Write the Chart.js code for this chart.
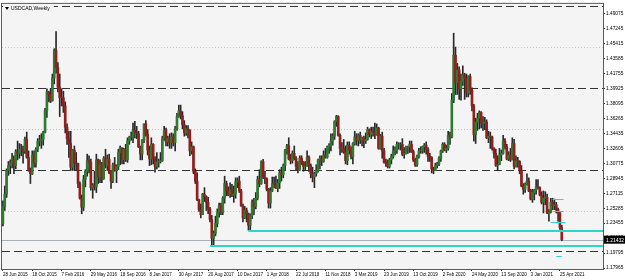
<!DOCTYPE html>
<html>
<head>
<meta charset="utf-8">
<script src="https://cdn.jsdelivr.net/npm/chart.js@4.4.0/dist/chart.umd.min.js"></script>
<style>
  html, body { margin: 0; padding: 0; background: #fff; }
</style>
</head>
<body>
<canvas id="app-canvas" width="625" height="280"></canvas>
<script>
// USDCAD weekly, one candle per week starting 28 Jun 2015
var tickLabels = ["28 Jun 2015", "18 Oct 2015", "7 Feb 2016", "29 May 2016", "18 Sep 2016",
  "8 Jan 2017", "30 Apr 2017", "20 Aug 2017", "10 Dec 2017", "1 Apr 2018", "22 Jul 2018",
  "11 Nov 2018", "3 Mar 2019", "23 Jun 2019", "13 Oct 2019", "2 Feb 2020", "24 May 2020",
  "13 Sep 2020", "3 Jan 2021", "25 Apr 2021"];

var open = [
  1.2340,1.2550,1.2700,1.2990,1.3050,1.3080,1.3135,1.3050,1.3220,1.3200,
  1.3250,1.3250,1.3230,1.3370,1.3150,1.2990,1.2950,1.3180,1.3080,1.3250,
  1.3350,1.3360,1.3370,1.3460,1.3725,1.3950,1.3920,1.3840,1.4120,1.4460,
  1.4250,1.4010,1.3880,1.3880,1.3780,1.3520,1.3380,1.3320,1.3030,1.3240,
  1.3080,1.3075,1.2830,1.2650,1.2540,1.2880,1.2980,1.3110,1.3090,1.2780,
  1.2810,1.2790,1.3120,1.2910,1.3070,1.2890,1.3140,1.3050,1.3130,1.2960,
  1.2860,1.3060,1.2990,1.3040,1.3210,1.3270,1.3120,1.3245,1.3120,1.3350,
  1.3400,1.3400,1.3480,1.3460,1.3440,1.3280,1.3190,1.3360,1.3560,1.3430,
  1.3240,1.3130,1.3310,1.3130,1.3040,1.3095,1.3100,1.3110,1.3380,1.3480,
  1.3340,1.3380,1.3330,1.3400,1.3330,1.3500,1.3650,1.3720,1.3660,1.3550,
  1.3450,1.3500,1.3480,1.3230,1.3280,1.2980,1.2860,1.2630,1.2510,1.2450,
  1.2700,1.2670,1.2600,1.2520,1.2390,1.2160,1.2220,1.2340,1.2480,1.2560,
  1.2480,1.2650,1.2830,1.2740,1.2690,1.2750,1.2690,1.2700,1.2850,1.2860,
  1.2740,1.2560,1.2410,1.2500,1.2460,1.2320,1.2440,1.2600,1.2550,1.2650,
  1.2880,1.2830,1.3100,1.2900,1.2890,1.2760,1.2590,1.2740,1.2830,1.2820,
  1.2770,1.2840,1.2960,1.2940,1.3050,1.3240,1.3290,1.3130,1.3110,1.3200,
  1.3140,1.3040,1.3000,1.3140,1.3090,1.3040,1.3040,1.3150,1.3050,1.2950,
  1.2910,1.2950,1.2990,1.3120,1.3140,1.3100,1.3180,1.3150,1.3280,1.3290,
  1.3350,1.3410,1.3590,1.3650,1.3420,1.3260,1.3260,1.3220,1.3110,1.3300,
  1.3240,1.3160,1.3320,1.3400,1.3360,1.3420,1.3360,1.3390,1.3350,1.3370,
  1.3490,1.3430,1.3470,1.3460,1.3430,1.3510,1.3260,1.3410,1.3230,1.3090,
  1.3080,1.3040,1.3120,1.3160,1.3230,1.3230,1.3310,1.3310,1.3310,1.3190,
  1.3200,1.3270,1.3280,1.3310,1.3220,1.3120,1.3060,1.3160,1.3230,1.3230,
  1.3280,1.3300,1.3250,1.3160,1.3150,1.3010,1.2990,1.3050,1.3070,1.3140,
  1.3230,1.3310,1.3240,1.3260,1.3420,1.3400,1.3850,1.4400,1.4060,1.4220,
  1.3990,1.4080,1.4160,1.4120,1.3940,1.4140,1.3970,1.3780,1.3430,1.3580,
  1.3630,1.3700,1.3570,1.3570,1.3580,1.3390,1.3410,1.3400,1.3260,1.3200,
  1.3050,1.3060,1.3180,1.3200,1.3350,1.3280,1.3130,1.3180,1.3120,1.3320,
  1.3040,1.3110,1.3100,1.2990,1.2800,1.2760,1.2820,1.2860,1.2740,1.2640,
  1.2720,1.2750,1.2790,1.2780,1.2690,1.2600,1.2650,1.2660,1.2470,1.2480,
  1.2600,1.2560,1.2570,1.2510,1.2470,1.2290
];
var high = [
  1.2620,1.2800,1.3010,1.3100,1.3120,1.3200,1.3170,1.3245,1.3350,1.3320,
  1.3310,1.3290,1.3400,1.3460,1.3230,1.3020,1.3230,1.3230,1.3270,1.3380,
  1.3420,1.3440,1.3470,1.3750,1.3990,1.3960,1.3990,1.4170,1.4480,1.4690,
  1.4310,1.4170,1.3990,1.3960,1.3830,1.3560,1.3470,1.3470,1.3250,1.3290,
  1.3210,1.3080,1.2850,1.2690,1.2930,1.3000,1.3190,1.3170,1.3130,1.2830,
  1.2980,1.3190,1.3130,1.3120,1.3090,1.3160,1.3250,1.3180,1.3190,1.2980,
  1.3080,1.3150,1.3060,1.3250,1.3290,1.3250,1.3260,1.3310,1.3390,1.3410,
  1.3460,1.3570,1.3590,1.3530,1.3470,1.3290,1.3370,1.3560,1.3600,1.3490,
  1.3290,1.3390,1.3320,1.3160,1.3210,1.3130,1.3210,1.3410,1.3530,1.3510,
  1.3410,1.3440,1.3450,1.3440,1.3530,1.3690,1.3790,1.3790,1.3710,1.3600,
  1.3540,1.3540,1.3490,1.3340,1.3290,1.3010,1.2960,1.2640,1.2580,1.2710,
  1.2780,1.2680,1.2660,1.2540,1.2440,1.2250,1.2430,1.2520,1.2590,1.2590,
  1.2670,1.2920,1.2860,1.2790,1.2840,1.2820,1.2800,1.2900,1.2900,1.2920,
  1.2760,1.2580,1.2550,1.2530,1.2470,1.2460,1.2630,1.2650,1.2720,1.2920,
  1.3000,1.3110,1.3125,1.2980,1.2900,1.2770,1.2780,1.2910,1.2910,1.2920,
  1.2880,1.3000,1.3030,1.3070,1.3250,1.3310,1.3390,1.3190,1.3230,1.3290,
  1.3160,1.3100,1.3170,1.3170,1.3100,1.3100,1.3230,1.3170,1.3070,1.3030,
  1.2970,1.3060,1.3130,1.3170,1.3170,1.3230,1.3260,1.3290,1.3320,1.3440,
  1.3440,1.3600,1.3665,1.3660,1.3440,1.3330,1.3370,1.3290,1.3340,1.3340,
  1.3280,1.3330,1.3470,1.3440,1.3440,1.3460,1.3400,1.3410,1.3450,1.3520,
  1.3500,1.3520,1.3520,1.3570,1.3560,1.3520,1.3430,1.3460,1.3260,1.3130,
  1.3120,1.3140,1.3190,1.3290,1.3280,1.3340,1.3330,1.3330,1.3380,1.3270,
  1.3290,1.3290,1.3350,1.3350,1.3240,1.3140,1.3180,1.3260,1.3280,1.3290,
  1.3320,1.3340,1.3270,1.3200,1.3160,1.3030,1.3080,1.3090,1.3160,1.3240,
  1.3330,1.3330,1.3300,1.3470,1.3460,1.3930,1.4670,1.4500,1.4300,1.4260,
  1.4170,1.4270,1.4180,1.4170,1.4150,1.4170,1.4000,1.3800,1.3630,1.3690,
  1.3720,1.3710,1.3650,1.3640,1.3610,1.3470,1.3460,1.3410,1.3270,1.3250,
  1.3170,1.3260,1.3240,1.3420,1.3380,1.3310,1.3220,1.3260,1.3390,1.3370,
  1.3170,1.3150,1.3110,1.3050,1.2830,1.2840,1.2950,1.2900,1.2760,1.2760,
  1.2760,1.2880,1.2880,1.2790,1.2730,1.2740,1.2730,1.2700,1.2510,1.2650,
  1.2650,1.2640,1.2600,1.2530,1.2480,1.2320
];
var low = [
  1.2310,1.2500,1.2660,1.2930,1.2950,1.3020,1.2950,1.3010,1.3120,1.3140,
  1.3170,1.3080,1.3200,1.3140,1.2980,1.2830,1.2940,1.3030,1.3030,1.3220,
  1.3290,1.3260,1.3300,1.3450,1.3640,1.3830,1.3820,1.3840,1.4050,1.4180,
  1.3950,1.3650,1.3780,1.3700,1.3450,1.3310,1.3150,1.2990,1.2990,1.2990,
  1.2990,1.2780,1.2640,1.2460,1.2500,1.2790,1.2920,1.2960,1.2750,1.2650,
  1.2750,1.2720,1.2830,1.2840,1.2840,1.2880,1.3020,1.2990,1.2950,1.2770,
  1.2840,1.2980,1.2840,1.3000,1.3060,1.3070,1.3070,1.3100,1.3090,1.3310,
  1.3360,1.3330,1.3390,1.3380,1.3270,1.3120,1.3120,1.3330,1.3410,1.3180,
  1.3050,1.3060,1.3070,1.2970,1.3010,1.3030,1.3080,1.3100,1.3360,1.3290,
  1.3290,1.3260,1.3260,1.3290,1.3230,1.3480,1.3640,1.3620,1.3500,1.3410,
  1.3420,1.3390,1.3170,1.3190,1.2950,1.2830,1.2620,1.2490,1.2410,1.2450,
  1.2610,1.2500,1.2460,1.2360,1.2060,1.2060,1.2190,1.2300,1.2420,1.2450,
  1.2450,1.2590,1.2680,1.2680,1.2660,1.2670,1.2600,1.2650,1.2780,1.2720,
  1.2550,1.2360,1.2400,1.2360,1.2260,1.2250,1.2400,1.2450,1.2520,1.2630,
  1.2790,1.2820,1.2890,1.2830,1.2740,1.2530,1.2530,1.2730,1.2780,1.2770,
  1.2730,1.2770,1.2860,1.2900,1.2990,1.3190,1.3120,1.3070,1.3080,1.3120,
  1.3000,1.2960,1.2990,1.3060,1.2980,1.2990,1.3040,1.2980,1.2900,1.2850,
  1.2780,1.2920,1.2970,1.3010,1.3050,1.3090,1.3140,1.3140,1.3200,1.3230,
  1.3300,1.3370,1.3530,1.3410,1.3180,1.3210,1.3200,1.3070,1.3060,1.3190,
  1.3130,1.3070,1.3300,1.3300,1.3290,1.3320,1.3290,1.3270,1.3320,1.3360,
  1.3400,1.3380,1.3410,1.3380,1.3420,1.3250,1.3250,1.3140,1.3080,1.3040,
  1.3020,1.3020,1.3070,1.3140,1.3180,1.3200,1.3250,1.3240,1.3170,1.3140,
  1.3190,1.3200,1.3210,1.3210,1.3100,1.3040,1.3040,1.3140,1.3200,1.3200,
  1.3210,1.3190,1.3100,1.3100,1.2960,1.2950,1.2990,1.3020,1.3050,1.3100,
  1.3210,1.3230,1.3210,1.3240,1.3310,1.3390,1.3820,1.3920,1.3920,1.3860,
  1.3850,1.4030,1.3860,1.3890,1.3890,1.3920,1.3720,1.3350,1.3320,1.3480,
  1.3500,1.3510,1.3480,1.3490,1.3380,1.3330,1.3260,1.3240,1.3140,1.3040,
  1.2990,1.3060,1.3110,1.3190,1.3250,1.3120,1.3110,1.3100,1.3120,1.3010,
  1.3030,1.3030,1.2950,1.2790,1.2700,1.2720,1.2810,1.2730,1.2630,1.2600,
  1.2630,1.2700,1.2760,1.2680,1.2580,1.2470,1.2570,1.2460,1.2370,1.2470,
  1.2510,1.2510,1.2470,1.2370,1.2270,1.2130
];
var close = [
  1.2550,1.2700,1.2990,1.3050,1.3080,1.3135,1.3050,1.3220,1.3200,1.3250,
  1.3250,1.3230,1.3370,1.3150,1.2990,1.2950,1.3180,1.3080,1.3250,1.3350,
  1.3360,1.3370,1.3460,1.3725,1.3950,1.3920,1.3840,1.4120,1.4460,1.4250,
  1.4010,1.3880,1.3880,1.3780,1.3520,1.3380,1.3320,1.3030,1.3240,1.3080,
  1.3075,1.2830,1.2650,1.2540,1.2880,1.2980,1.3110,1.3090,1.2780,1.2810,
  1.2790,1.3120,1.2910,1.3070,1.2890,1.3140,1.3050,1.3130,1.2960,1.2860,
  1.3060,1.2990,1.3040,1.3210,1.3270,1.3120,1.3245,1.3120,1.3350,1.3400,
  1.3400,1.3480,1.3460,1.3440,1.3280,1.3190,1.3360,1.3560,1.3430,1.3240,
  1.3130,1.3310,1.3130,1.3040,1.3095,1.3100,1.3110,1.3380,1.3480,1.3340,
  1.3380,1.3330,1.3400,1.3330,1.3500,1.3650,1.3720,1.3660,1.3550,1.3450,
  1.3500,1.3480,1.3230,1.3280,1.2980,1.2860,1.2630,1.2510,1.2450,1.2700,
  1.2670,1.2600,1.2520,1.2390,1.2160,1.2220,1.2340,1.2480,1.2560,1.2480,
  1.2650,1.2830,1.2740,1.2690,1.2750,1.2690,1.2700,1.2850,1.2860,1.2740,
  1.2560,1.2410,1.2500,1.2460,1.2320,1.2440,1.2600,1.2550,1.2650,1.2880,
  1.2830,1.3100,1.2900,1.2890,1.2760,1.2590,1.2740,1.2830,1.2820,1.2770,
  1.2840,1.2960,1.2940,1.3050,1.3240,1.3290,1.3130,1.3110,1.3200,1.3140,
  1.3040,1.3000,1.3140,1.3090,1.3040,1.3040,1.3150,1.3050,1.2950,1.2910,
  1.2950,1.2990,1.3120,1.3140,1.3100,1.3180,1.3150,1.3280,1.3290,1.3350,
  1.3410,1.3590,1.3650,1.3420,1.3260,1.3260,1.3220,1.3110,1.3300,1.3240,
  1.3160,1.3320,1.3400,1.3360,1.3420,1.3360,1.3390,1.3350,1.3370,1.3490,
  1.3430,1.3470,1.3460,1.3430,1.3510,1.3260,1.3410,1.3230,1.3090,1.3080,
  1.3040,1.3120,1.3160,1.3230,1.3230,1.3310,1.3310,1.3310,1.3190,1.3200,
  1.3270,1.3280,1.3310,1.3220,1.3120,1.3060,1.3160,1.3230,1.3230,1.3280,
  1.3300,1.3250,1.3160,1.3150,1.3010,1.2990,1.3050,1.3070,1.3140,1.3230,
  1.3310,1.3240,1.3260,1.3420,1.3400,1.3850,1.4400,1.4060,1.4220,1.3990,
  1.4080,1.4160,1.4120,1.3940,1.4140,1.3970,1.3780,1.3430,1.3580,1.3630,
  1.3700,1.3570,1.3570,1.3580,1.3390,1.3410,1.3400,1.3260,1.3200,1.3050,
  1.3060,1.3180,1.3200,1.3350,1.3280,1.3130,1.3180,1.3120,1.3320,1.3040,
  1.3110,1.3100,1.2990,1.2800,1.2760,1.2820,1.2860,1.2740,1.2640,1.2720,
  1.2750,1.2790,1.2780,1.2690,1.2600,1.2650,1.2660,1.2470,1.2480,1.2600,
  1.2560,1.2570,1.2510,1.2470,1.2290,1.2143
];

// right-hand price scale labels
var priceTicks = [1.17965, 1.19795, 1.21625, 1.23455, 1.25285, 1.27115, 1.28945, 1.30775, 1.32605,
  1.34435, 1.36265, 1.38095, 1.39925, 1.41755, 1.43585, 1.45415, 1.47245, 1.49075];

// horizontal line objects
var roundLevels = [1.5, 1.4, 1.3, 1.2];       // dashed
var halfLevels = [1.45, 1.35, 1.25];          // dotted
var supportPrice = [1.2062, 1.2250];          // long cyan lines
var supportFrom = [113, 134];                 // week they start at
var boxPrice = [1.2647, 1.2489, 1.2355, 1.1942];
var boxFrom = [300, 300, 299, 302];
var boxTo = [306, 306, 307, 305];
var lastPrice = 1.21432;
var symbolTitle = "USDCAD,Weekly";

var totalSlots = 328; // weeks incl. empty space at right
var fontFamily = "'Liberation Sans', Arial, sans-serif";

var canvas = document.getElementById("app-canvas");
var ctx = canvas.getContext("2d");

var slots = [];
for (var i = 0; i < totalSlots; i++) slots.push(i);

var bodies = [];
var wicks = [];
for (var j = 0; j < close.length; j++) {
  bodies.push([open[j], close[j]]);
  wicks.push([low[j], high[j]]);
}

function hLine(c, area, y, x0, color, width, dash) {
  c.save();
  c.strokeStyle = color;
  c.lineWidth = width;
  c.setLineDash(dash || []);
  c.beginPath();
  c.moveTo(x0, Math.round(y) + (width % 2 ? 0.5 : 0));
  c.lineTo(area.right, Math.round(y) + (width % 2 ? 0.5 : 0));
  c.stroke();
  c.restore();
}

var terminalLook = {
  id: "terminalLook",
  beforeDraw: function(chart) {
    var c = chart.ctx, a = chart.chartArea;
    c.save();
    c.fillStyle = "#ffffff";
    c.fillRect(0, 0, chart.width, chart.height);
    c.fillStyle = "#f4f4f4";
    c.fillRect(a.left, a.top, a.right - a.left, a.bottom - a.top);
    c.restore();
  },
  beforeDatasetsDraw: function(chart) {
    var c = chart.ctx, a = chart.chartArea, y = chart.scales.y;
    roundLevels.forEach(function(v) {
      hLine(c, a, y.getPixelForValue(v), a.left, "#333333", 1, [8, 4]);
    });
    halfLevels.forEach(function(v) {
      hLine(c, a, y.getPixelForValue(v), a.left, "#c4c4c4", 1, [1, 2]);
    });
    hLine(c, a, y.getPixelForValue(lastPrice), a.left, "#a9b1b8", 1);
  },
  afterDatasetsDraw: function(chart) {
    var c = chart.ctx, a = chart.chartArea, y = chart.scales.y, x = chart.scales.x;
    for (var k = 0; k < supportPrice.length; k++) {
      hLine(c, a, y.getPixelForValue(supportPrice[k]), x.getPixelForValue(supportFrom[k]), "#2fd6c6", 2);
    }
    c.save();
    c.strokeStyle = "#2fd6c6";
    c.lineWidth = 1;
    for (var m = 0; m < boxPrice.length; m++) {
      var py = Math.round(y.getPixelForValue(boxPrice[m])) + 0.5;
      c.beginPath();
      c.moveTo(x.getPixelForValue(boxFrom[m]), py);
      c.lineTo(x.getPixelForValue(boxTo[m]), py);
      c.stroke();
    }
    c.restore();
  },
  afterDraw: function(chart) {
    var c = chart.ctx, a = chart.chartArea, y = chart.scales.y;
    c.save();
    // frame
    c.strokeStyle = "#5a5a5a";
    c.lineWidth = 1;
    c.strokeRect(a.left - 0.5, a.top - 0.5, a.right - a.left + 1, a.bottom - a.top + 1);
    // symbol title
    c.font = "5px " + fontFamily;
    c.textBaseline = "middle";
    var tw = c.measureText(symbolTitle).width;
    c.fillStyle = "#f4f4f4";
    c.fillRect(a.left + 1, a.top + 1, tw + 12, 7);
    c.fillStyle = "#000";
    c.beginPath();
    c.moveTo(a.left + 3, a.top + 3);
    c.lineTo(a.left + 7, a.top + 3);
    c.lineTo(a.left + 5, a.top + 6);
    c.fill();
    c.fillText(symbolTitle, a.left + 9, a.top + 4.5);
    // last price tag
    var ly = y.getPixelForValue(lastPrice);
    c.fillStyle = "#000";
    c.fillRect(a.right + 1, ly - 4, chart.width - a.right - 1, 8);
    c.fillStyle = "#fff";
    c.fillText(lastPrice.toFixed(5), a.right + 3, ly + 0.5);
    c.restore();
  }
};

var chart = new Chart(ctx, {
  type: "bar",
  data: {
    labels: slots,
    datasets: [
      {
        label: "body",
        data: bodies,
        grouped: false,
        barThickness: 2,
        backgroundColor: function(c) {
          var i = c.dataIndex;
          return close[i] >= open[i] ? "#327a32" : "#931e1e";
        },
        borderWidth: 0
      },
      {
        label: "wick",
        data: wicks,
        grouped: false,
        barThickness: 1,
        backgroundColor: "#2a2a2a",
        borderWidth: 0
      }
    ]
  },
  options: {
    responsive: false,
    animation: false,
    layout: { padding: { left: 2, top: 2, right: 0, bottom: 0 } },
    plugins: { legend: { display: false }, tooltip: { enabled: false } },
    scales: {
      x: {
        type: "category",
        offset: true,
        border: { display: false },
        grid: {
          offset: false,
          drawOnChartArea: false,
          tickLength: 2,
          color: function(c) {
            return (c.index % 16 === 0 && c.index / 16 < tickLabels.length) ? "#333" : "rgba(0,0,0,0)";
          }
        },
        ticks: {
          autoSkip: false,
          maxRotation: 0,
          align: "start",
          padding: 1,
          color: "#000",
          font: { size: 4.5, family: fontFamily },
          callback: function(v, i) {
            return i % 16 === 0 && tickLabels[i / 16] ? tickLabels[i / 16] : "";
          }
        },
        afterFit: function(s) { s.height = 11; }
      },
      y: {
        position: "right",
        min: 1.17843,
        max: 1.50289,
        border: { display: false },
        grid: { drawOnChartArea: false, tickLength: 2, color: "#333" },
        afterBuildTicks: function(s) {
          s.ticks = priceTicks.map(function(v) { return { value: v }; });
        },
        ticks: {
          padding: 1,
          color: "#000",
          font: { size: 4.8, family: fontFamily },
          callback: function(v) { return Number(v).toFixed(5); }
        },
        afterFit: function(s) { s.width = 22; }
      }
    }
  },
  plugins: [terminalLook]
});
</script>
</body>
</html>
